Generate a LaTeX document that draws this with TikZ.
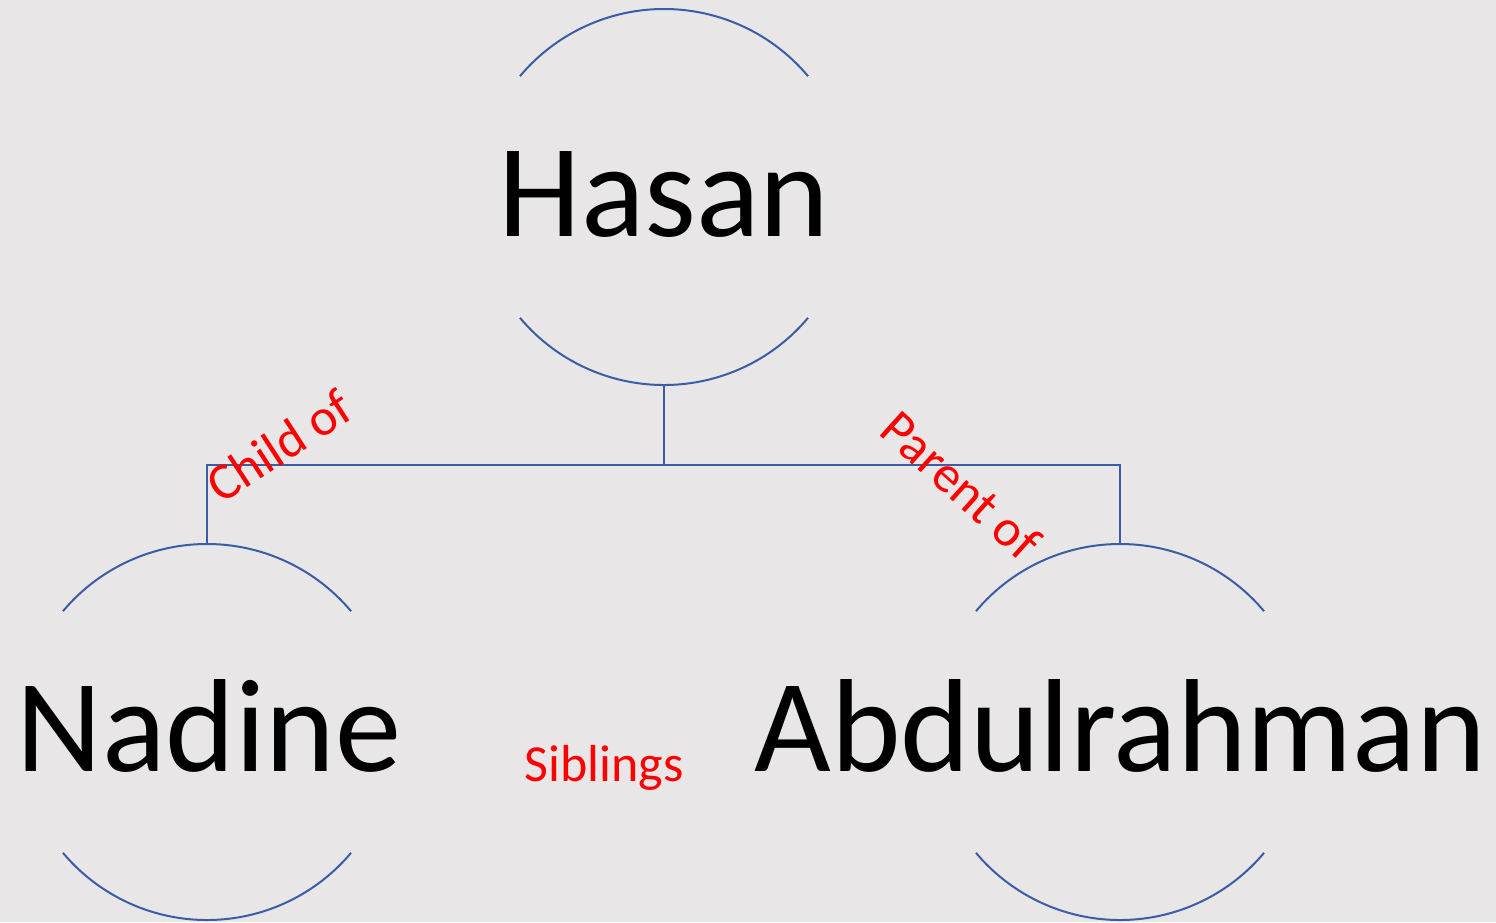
\documentclass[tikz,border=0pt]{standalone}
\usepackage{fontspec}
\setmainfont{Carlito}
\definecolor{bg}{HTML}{E8E6E7}
\definecolor{arcblue}{HTML}{3B5DA6}
\definecolor{lblred}{HTML}{FF0000}
\begin{document}
\begin{tikzpicture}[x=1pt,y=-1pt,
  arcline/.style={draw=arcblue,line width=2pt},
  bigname/.style={anchor=base,inner sep=0pt,font=\fontsize{132.5}{132.5}\selectfont},
  rellabel/.style={text=lblred,inner sep=0pt,font=\fontsize{52}{52}\selectfont}]
\fill[bg] (0,0) rectangle (1496,922);
\useasboundingbox (0,0) rectangle (1496,922);
% circles (arcs)
\foreach \cx/\cy/\nm in {664/197/h,207/732/n,1120/732/a}{
  \coordinate (\nm c) at (\cx,\cy);
  \coordinate (\nm top) at (\cx,\cy-188);
  \coordinate (\nm bot) at (\cx,\cy+188);
  \draw[arcline] ([shift={(220:188)}]\nm c) arc[start angle=220,end angle=320,radius=188];
  \draw[arcline] ([shift={(40:188)}]\nm c) arc[start angle=40,end angle=140,radius=188];
}
\node[bigname] (hasan) at (664,236) {Hasan};
\node[bigname] (nadine) at (209,771) {Nadine};
\node[bigname] (abdul) at (1120,771) {Abdulrahman};
% connectors
\coordinate (mid) at (664,465);
\draw[arcline] (hbot) -- (mid);
\draw[arcline] (ntop) |- (mid) -| (atop);
% labels
\node[rellabel,rotate=33] (child) at (279,446) {Child of};
\node[rellabel,rotate=-42] (parent) at (961,485) {Parent of};
\node[rellabel] (sib) at (604,768) {Siblings};
\end{tikzpicture}
\end{document}
